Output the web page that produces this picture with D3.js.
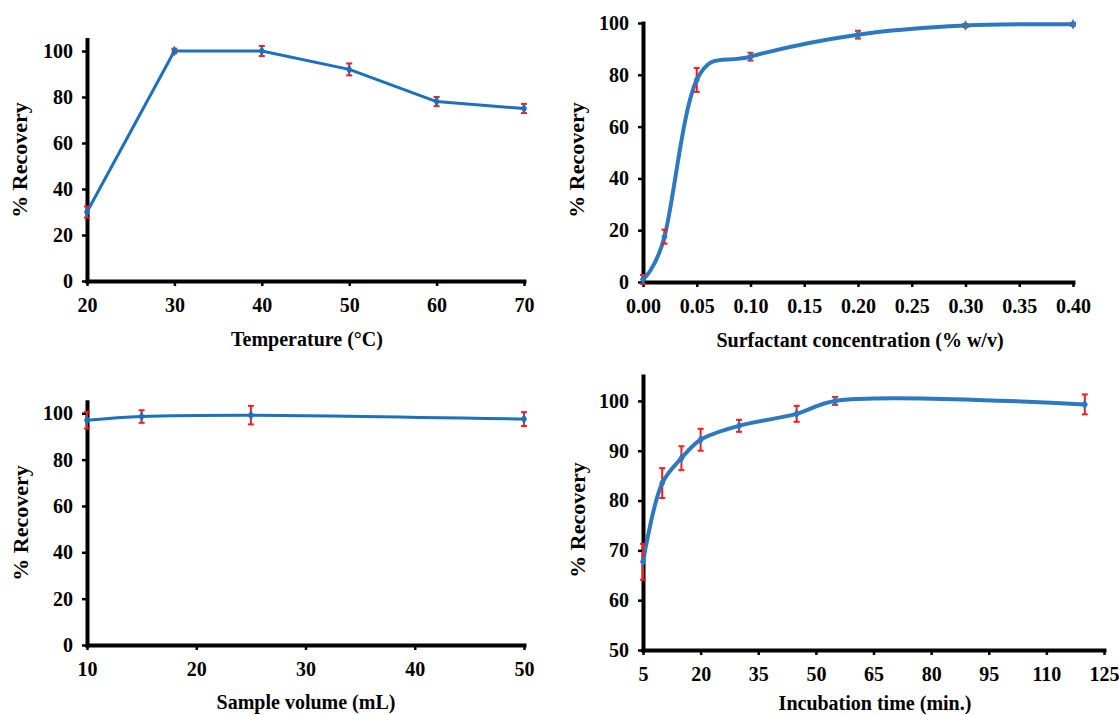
<!DOCTYPE html>
<html>
<head>
<meta charset="utf-8">
<script src="https://cdn.jsdelivr.net/npm/d3@7/dist/d3.min.js"></script>
<style>
  body { margin: 0; background: #fff; }
  svg text { font-family: 'Liberation Serif', 'Times New Roman', serif; font-weight: bold; fill: #000; }
</style>
</head>
<body>
<svg id="chart" width="1119" height="715"></svg>
<script>
// temperature panel
const tempX = [20, 30, 40, 50, 60, 70];
const tempY = [30, 100, 100, 92, 78, 75];
const tempErr = [2.4, 1, 2.2, 2.6, 2, 2];
const tempTicksX = [20, 30, 40, 50, 60, 70];

// surfactant panel
const surfX = [0, 0.02, 0.05, 0.1, 0.2, 0.3, 0.4];
const surfY = [1, 17.5, 78, 87, 95.5, 99, 99.5];
const surfErr = [1.7, 2.7, 4.6, 1.5, 1.5, 0.6, 0.5];
const surfTicksX = [0, 0.05, 0.1, 0.15, 0.2, 0.25, 0.3, 0.35, 0.4];

// sample volume panel
const volX = [10, 15, 25, 50];
const volY = [97, 98.6, 99.2, 97.5];
const volErr = [3.6, 2.7, 4, 3];
const volTicksX = [10, 20, 30, 40, 50];

// incubation time panel
const timeX = [5, 10, 15, 20, 30, 45, 55, 120];
const timeY = [67.7, 83.5, 88.5, 92.2, 95, 97.4, 100, 99.3];
const timeErr = [3.6, 3, 2.4, 2.2, 1.2, 1.6, 0.8, 2];
const timeTicksX = [5, 20, 35, 50, 65, 80, 95, 110, 125];

const recTicks = [0, 20, 40, 60, 80, 100];
const timeTicksY = [50, 60, 70, 80, 90, 100];

const svg = d3.select('#chart');

const panels = [
  {
    x: tempX, y: tempY, err: tempErr, ticksX: tempTicksX, ticksY: recTicks,
    xDomain: [20, 70], yDomain: [0, 105], xRange: [87, 524], yRange: [281, 39.5],
    fmt: d3.format('d'), curve: d3.curveLinear, color: '#1c70bd', lw: 3,
    title: 'Temperature (°C)', titleX: 307, titleY: 346, ylabX: 27, ylabY: 160,
  },
  {
    x: surfX, y: surfY, err: surfErr, ticksX: surfTicksX, ticksY: recTicks,
    xDomain: [0, 0.4], yDomain: [0, 100], xRange: [643, 1073], yRange: [282, 23],
    fmt: d3.format('.2f'), curve: d3.curveCardinal.tension(0), color: '#2c79c0', lw: 4,
    title: 'Surfactant concentration (% w/v)', titleX: 860, titleY: 347, ylabX: 584, ylabY: 160,
  },
  {
    x: volX, y: volY, err: volErr, ticksX: volTicksX, ticksY: recTicks,
    xDomain: [10, 50], yDomain: [0, 105], xRange: [87, 524], yRange: [645, 401.7],
    fmt: d3.format('d'), curve: d3.curveCatmullRom.alpha(0.5), color: '#1c70bd', lw: 3,
    title: 'Sample volume (mL)', titleX: 306, titleY: 709, ylabX: 28, ylabY: 523,
  },
  {
    x: timeX, y: timeY, err: timeErr, ticksX: timeTicksX, ticksY: timeTicksY,
    xDomain: [5, 125], yDomain: [50, 105], xRange: [643, 1104], yRange: [650, 376],
    fmt: d3.format('d'), curve: d3.curveCatmullRom.alpha(0.5), color: '#2c79c0', lw: 4,
    title: 'Incubation time (min.)', titleX: 875, titleY: 710, ylabX: 585, ylabY: 520,
  },
];

panels.forEach((p) => {
  const x = d3.scaleLinear().domain(p.xDomain).range(p.xRange);
  const y = d3.scaleLinear().domain(p.yDomain).range(p.yRange);
  const g = svg.append('g');

  // axes
  const xAxis = g.append('g')
    .attr('transform', `translate(0,${p.yRange[0]})`)
    .call(d3.axisBottom(x).tickValues(p.ticksX).tickFormat(p.fmt)
      .tickSize(5).tickSizeOuter(0).tickPadding(12));
  const yAxis = g.append('g')
    .attr('transform', `translate(${p.xRange[0]},0)`)
    .call(d3.axisLeft(y).tickValues(p.ticksY).tickSize(5).tickSizeOuter(0).tickPadding(9));

  [xAxis, yAxis].forEach((a) => {
    a.select('.domain').attr('stroke', '#000').attr('stroke-width', 4)
      .attr('stroke-linecap', 'square');
    a.selectAll('.tick line').attr('stroke', '#000').attr('stroke-width', 2.5);
    a.selectAll('.tick text').style('font-size', '20px')
      .style('font-family', "'Liberation Serif', serif").style('font-weight', 'bold');
  });

  // line
  const pts = p.x.map((v, i) => [v, p.y[i]]);
  const line = d3.line()
    .x((d) => x(d[0]))
    .y((d) => y(d[1]))
    .curve(p.curve);
  g.append('path')
    .attr('d', line(pts))
    .attr('fill', 'none')
    .attr('stroke', p.color)
    .attr('stroke-width', p.lw)
    .attr('stroke-linejoin', 'round');

  // error bars
  const eb = g.append('g').attr('stroke', '#ff1a1a').attr('stroke-width', 2);
  pts.forEach((d, i) => {
    const cx = x(d[0]);
    const lo = y(d[1] - p.err[i]);
    const hi = y(d[1] + p.err[i]);
    eb.append('line').attr('x1', cx).attr('x2', cx).attr('y1', lo).attr('y2', hi);
    eb.append('line').attr('x1', cx - 3).attr('x2', cx + 3).attr('y1', lo).attr('y2', lo);
    eb.append('line').attr('x1', cx - 3).attr('x2', cx + 3).attr('y1', hi).attr('y2', hi);
  });

  // markers
  g.selectAll('.marker')
    .data(pts)
    .enter()
    .append('path')
    .attr('class', 'marker')
    .attr('d', d3.symbol(d3.symbolDiamond).size(32))
    .attr('transform', (d) => `translate(${x(d[0])},${y(d[1])})`)
    .attr('fill', p.color);

  // titles
  g.append('text')
    .attr('x', p.titleX)
    .attr('y', p.titleY)
    .attr('text-anchor', 'middle')
    .style('font-size', '20px')
    .text(p.title);

  g.append('text')
    .attr('transform', `translate(${p.ylabX},${p.ylabY}) rotate(-90)`)
    .attr('text-anchor', 'middle')
    .style('font-size', '22px')
    .text('% Recovery');
});
</script>
</body>
</html>
